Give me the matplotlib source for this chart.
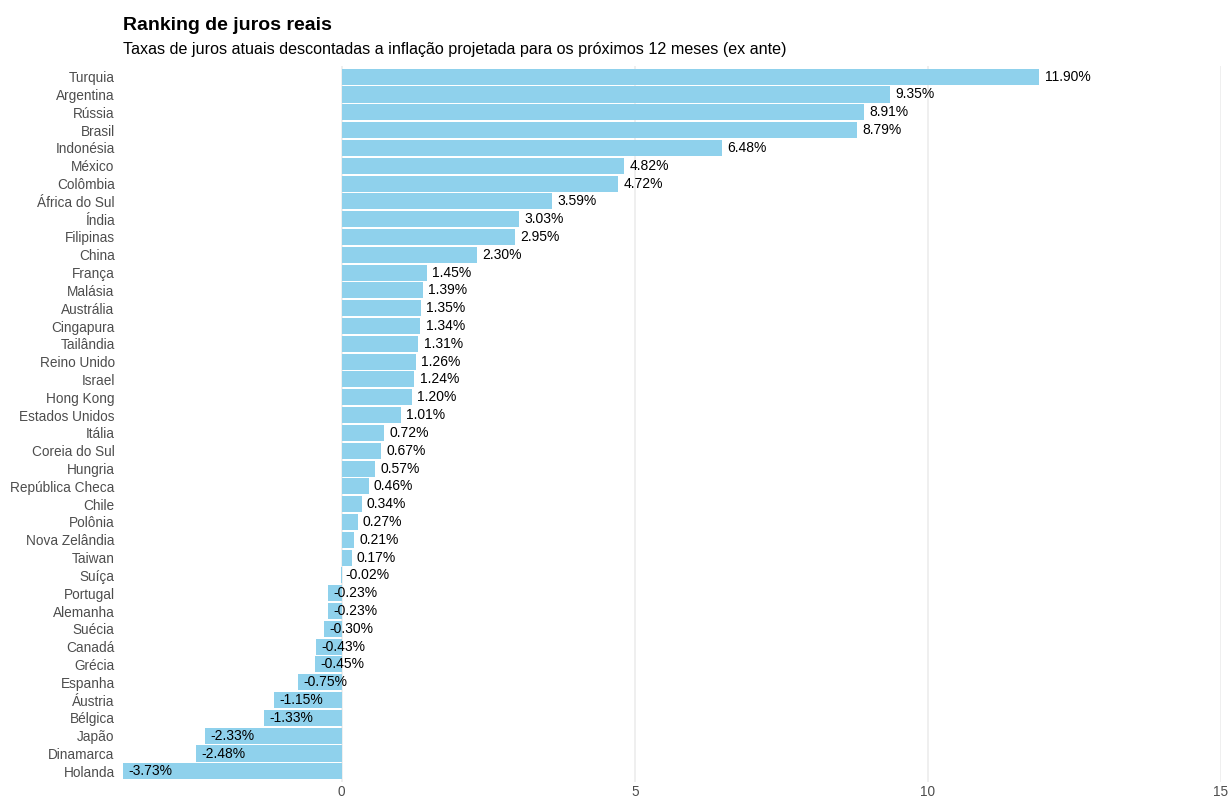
import matplotlib
matplotlib.use('Agg')
import matplotlib.pyplot as plt

plt.rcParams['font.family'] = ['Liberation Sans', 'DejaVu Sans']

# Dados: juros reais ex ante (%)
paises = ['Turquia', 'Argentina', 'Rússia', 'Brasil', 'Indonésia', 'México',
          'Colômbia', 'África do Sul', 'Índia', 'Filipinas', 'China', 'França',
          'Malásia', 'Austrália', 'Cingapura', 'Tailândia', 'Reino Unido',
          'Israel', 'Hong Kong', 'Estados Unidos', 'Itália', 'Coreia do Sul',
          'Hungria', 'República Checa', 'Chile', 'Polônia', 'Nova Zelândia',
          'Taiwan', 'Suíça', 'Portugal', 'Alemanha', 'Suécia', 'Canadá',
          'Grécia', 'Espanha', 'Áustria', 'Bélgica', 'Japão', 'Dinamarca',
          'Holanda']
juros = [11.90, 9.35, 8.91, 8.79, 6.48, 4.82, 4.72, 3.59, 3.03, 2.95, 2.30,
         1.45, 1.39, 1.35, 1.34, 1.31, 1.26, 1.24, 1.20, 1.01, 0.72, 0.67,
         0.57, 0.46, 0.34, 0.27, 0.21, 0.17, -0.02, -0.23, -0.23, -0.30,
         -0.43, -0.45, -0.75, -1.15, -1.33, -2.33, -2.48, -3.73]
x_ticks = [0, 5, 10, 15]

n = len(paises)
pos = list(range(n))[::-1]

fig = plt.figure(figsize=(12.28, 8), dpi=100)
ax = fig.add_axes([0.1002, 0.0225, 0.8941, 0.895])

ax.barh(pos, juros, height=0.9, color='#8FD1EC', zorder=2)
for p, v in zip(pos, juros):
    ax.text(v + 0.09, p, f'{v:.2f}%', ha='left', va='center',
            fontsize=10, color='black', zorder=3)

ax.set_xlim(-3.73, 15)
ax.set_ylim(-0.6, n - 0.4)
ax.set_xticks(x_ticks)
ax.set_xticklabels([str(t) for t in x_ticks])
ax.set_yticks(pos)
ax.set_yticklabels(paises)
ax.tick_params(axis='both', length=0, labelsize=9.8, colors='#4D4D4D')
ax.tick_params(axis='y', pad=6)
ax.tick_params(axis='x', pad=2.5)
ax.grid(axis='x', color='#EBEBEB', linewidth=1.1, zorder=0)
for s in ax.spines.values():
    s.set_visible(False)

fig.text(0.1002, 0.968, 'Ranking de juros reais', fontsize=14,
         fontweight='bold', ha='left', va='center')
fig.text(0.1002, 0.938, 'Taxas de juros atuais descontadas a inflação projetada para os próximos 12 meses (ex ante)',
         fontsize=11.6, ha='left', va='center')

fig.savefig('out.png', dpi=100)
